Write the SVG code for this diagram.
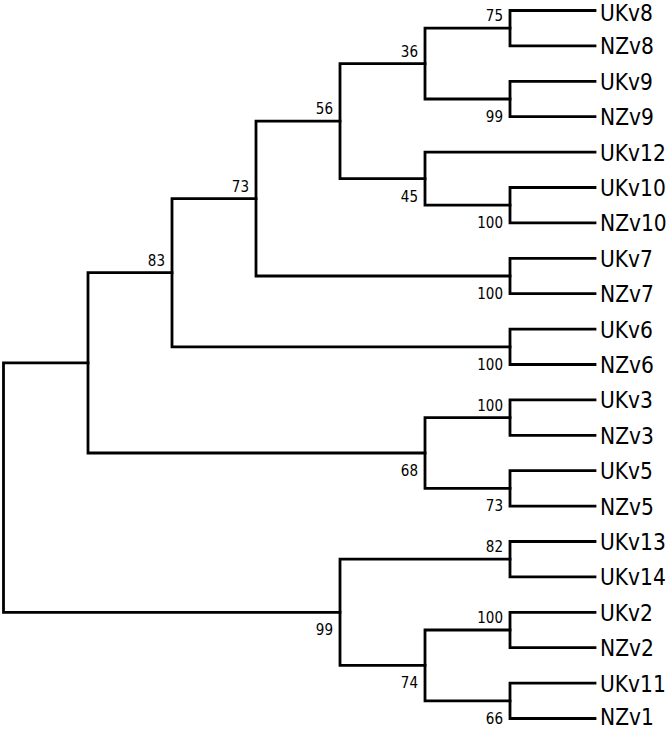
<svg xmlns="http://www.w3.org/2000/svg" width="670" height="730" viewBox="0 0 670 730">
<style>
.br{fill:none;stroke:#000;stroke-width:2.8;stroke-linejoin:miter;stroke-linecap:square}
.leaf{font-family:"DejaVu Sans Condensed","DejaVu Sans",sans-serif;font-stretch:condensed;font-size:22.5px;fill:#000}
.bs{font-family:"DejaVu Sans Condensed","DejaVu Sans",sans-serif;font-stretch:condensed;font-size:15px;fill:#000;text-anchor:end}
</style>
<rect width="670" height="730" fill="#fff"/>
<g id="connectors">
<path class="br" d="M595 10.5H510V45.9H595"/>
<path class="br" d="M595 81.3H510V116.7H595"/>
<path class="br" d="M510 28.2H425V99H510"/>
<path class="br" d="M595 187.5H510V222.9H595"/>
<path class="br" d="M595 152.1H425V205.2H510"/>
<path class="br" d="M425 63.6H340V178.7H425"/>
<path class="br" d="M595 258.3H510V293.7H595"/>
<path class="br" d="M340 121.15H256V276H510"/>
<path class="br" d="M595 329.1H510V364.5H595"/>
<path class="br" d="M256 198.6H172V346.8H510"/>
<path class="br" d="M595 399.9H510V435.3H595"/>
<path class="br" d="M595 470.7H510V506.1H595"/>
<path class="br" d="M510 417.6H425V488.4H510"/>
<path class="br" d="M172 272.7H88V453H425"/>
<path class="br" d="M595 541.5H510V576.9H595"/>
<path class="br" d="M595 612.3H510V647.7H595"/>
<path class="br" d="M595 683.1H510V718.5H595"/>
<path class="br" d="M510 630H425V700.8H510"/>
<path class="br" d="M510 559.2H340V665.4H425"/>
<path class="br" d="M88 362.9H3.5V612.3H340"/>
</g>
<g id="leaf-UKv8"><text class="leaf" x="600" y="21">UKv8</text></g>
<g id="leaf-NZv8"><text class="leaf" x="600" y="54.4">NZv8</text></g>
<g id="leaf-UKv9"><text class="leaf" x="600" y="89.8">UKv9</text></g>
<g id="leaf-NZv9"><text class="leaf" x="600" y="125.2">NZv9</text></g>
<g id="leaf-UKv12"><text class="leaf" x="600" y="160.6">UKv12</text></g>
<g id="leaf-UKv10"><text class="leaf" x="600" y="196">UKv10</text></g>
<g id="leaf-NZv10"><text class="leaf" x="600" y="231.4">NZv10</text></g>
<g id="leaf-UKv7"><text class="leaf" x="600" y="266.8">UKv7</text></g>
<g id="leaf-NZv7"><text class="leaf" x="600" y="302.2">NZv7</text></g>
<g id="leaf-UKv6"><text class="leaf" x="600" y="337.6">UKv6</text></g>
<g id="leaf-NZv6"><text class="leaf" x="600" y="373">NZv6</text></g>
<g id="leaf-UKv3"><text class="leaf" x="600" y="408.4">UKv3</text></g>
<g id="leaf-NZv3"><text class="leaf" x="600" y="443.8">NZv3</text></g>
<g id="leaf-UKv5"><text class="leaf" x="600" y="479.2">UKv5</text></g>
<g id="leaf-NZv5"><text class="leaf" x="600" y="514.6">NZv5</text></g>
<g id="leaf-UKv13"><text class="leaf" x="600" y="550">UKv13</text></g>
<g id="leaf-UKv14"><text class="leaf" x="600" y="585.4">UKv14</text></g>
<g id="leaf-UKv2"><text class="leaf" x="600" y="620.8">UKv2</text></g>
<g id="leaf-NZv2"><text class="leaf" x="600" y="656.2">NZv2</text></g>
<g id="leaf-UKv11"><text class="leaf" x="600" y="691.6">UKv11</text></g>
<g id="leaf-NZv1"><text class="leaf" x="600" y="724.5">NZv1</text></g>
<g id="node-8"><text class="bs" x="503" y="21.2">75</text></g>
<g id="node-9"><text class="bs" x="503" y="122">99</text></g>
<g id="node-8-9"><text class="bs" x="418" y="56.6">36</text></g>
<g id="node-10"><text class="bs" x="503" y="228.2">100</text></g>
<g id="node-12-10"><text class="bs" x="418" y="201.7">45</text></g>
<g id="node-56"><text class="bs" x="333" y="114.15">56</text></g>
<g id="node-7"><text class="bs" x="503" y="299">100</text></g>
<g id="node-73"><text class="bs" x="249" y="191.6">73</text></g>
<g id="node-6"><text class="bs" x="503" y="369.8">100</text></g>
<g id="node-83"><text class="bs" x="165" y="265.7">83</text></g>
<g id="node-3"><text class="bs" x="503" y="410.6">100</text></g>
<g id="node-5"><text class="bs" x="503" y="511.4">73</text></g>
<g id="node-68"><text class="bs" x="418" y="476">68</text></g>
<g id="node-inner"/>
<g id="node-13-14"><text class="bs" x="503" y="552.2">82</text></g>
<g id="node-2"><text class="bs" x="503" y="623">100</text></g>
<g id="node-11-1"><text class="bs" x="503" y="723.8">66</text></g>
<g id="node-74"><text class="bs" x="418" y="688.4">74</text></g>
<g id="node-99"><text class="bs" x="333" y="635.3">99</text></g>
<g id="node-root"/>
</svg>
